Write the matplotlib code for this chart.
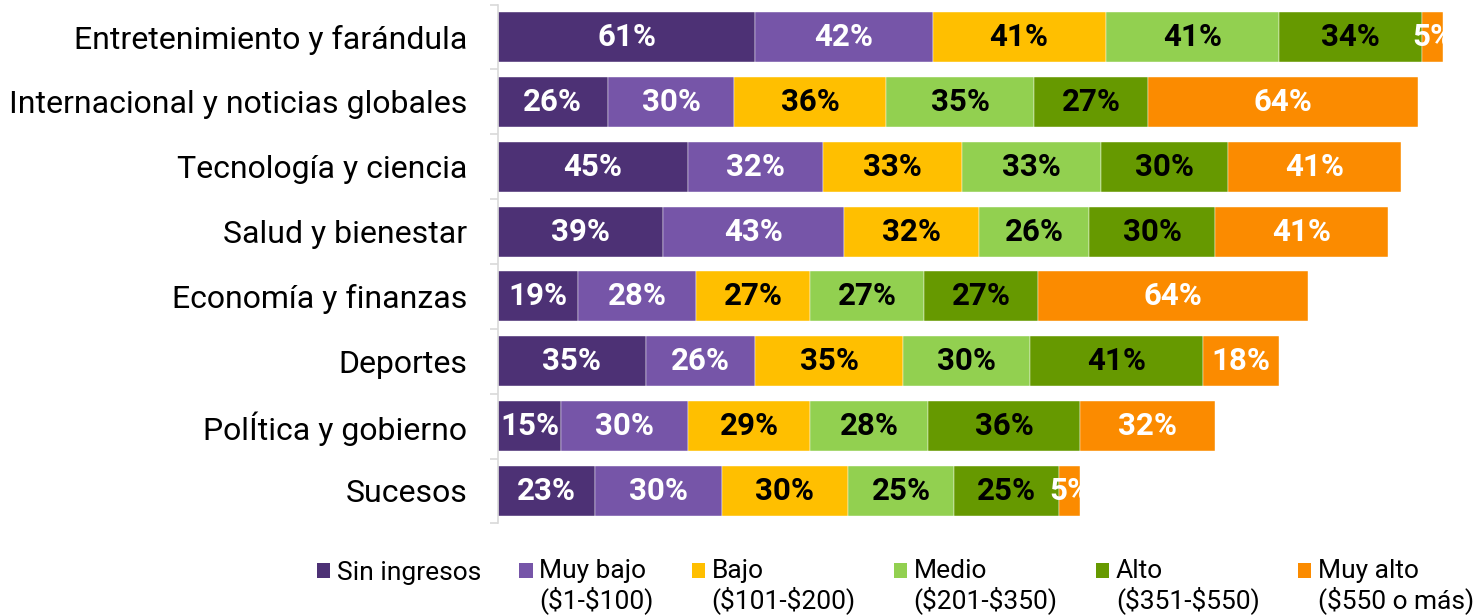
import matplotlib.pyplot as plt
import numpy as np
from matplotlib.legend_handler import HandlerPatch
from matplotlib.patches import Patch, Rectangle

plt.rcParams['font.family'] = ['Roboto', 'DejaVu Sans']
plt.rcParams['text.parse_math'] = False

# ─── Données ──────────────────────────────────────────────────────────────────

categories = [
    "Entretenimiento y farándula",
    "Internacional y noticias globales",
    "Tecnología y ciencia",
    "Salud y bienestar",
    "Economía y finanzas",
    "Deportes",
    "PolÍtica y gobierno",
    "Sucesos",
]

sin_ingresos = [61, 26, 45, 39, 19, 35, 15, 23]
muy_bajo     = [42, 30, 32, 43, 28, 26, 30, 30]
bajo         = [41, 36, 33, 32, 27, 35, 29, 30]
medio        = [41, 35, 33, 26, 27, 30, 28, 25]
alto         = [34, 27, 30, 30, 27, 41, 36, 25]
muy_alto     = [5, 64, 41, 41, 64, 18, 32, 5]

series_labels = [
    "Sin ingresos\n ",
    "Muy bajo\n($1-$100)",
    "Bajo\n($101-$200)",
    "Medio\n($201-$350)",
    "Alto\n($351-$550)",
    "Muy alto\n($550 o más)",
]
series = [sin_ingresos, muy_bajo, bajo, medio, alto, muy_alto]
colors = ["#4D3175", "#7655A8", "#FFBF00", "#92D050", "#669900", "#FB8B00"]
text_colors = ["white", "white", "black", "black", "black", "white"]

# ─── Figure ───────────────────────────────────────────────────────────────────

fig = plt.figure(figsize=(14.79, 6.16), dpi=100)
ax = fig.add_axes([498 / 1479, 1 - 523.4 / 616, 962 / 1479, 518.8 / 616])

y = np.arange(len(categories))
bar_h = 0.77
left = np.zeros(len(categories))
totals = np.sum(series, axis=0)

for vals, col, tcol in zip(series, colors, text_colors):
    vals = np.array(vals, dtype=float)
    ax.barh(y, vals, left=left, height=bar_h, color=col,
            edgecolor="white", linewidth=0.3)
    for i, v in enumerate(vals):
        t = ax.text(left[i] + v / 2, y[i], f"{int(v)}%", ha="center",
                    va="center", color=tcol, fontsize=22.5, fontweight="bold")
        # le texte est coupé au bout de la barre (cas des 5 %)
        clip = Rectangle((0, y[i] - bar_h / 2), totals[i], bar_h,
                         transform=ax.transData)
        t.set_clip_path(clip)
    left += vals

ax.set_xlim(0, 962 / 4.22)
ax.set_ylim(len(categories) - 0.5, -0.5)

ax.set_yticks(y)
ax.set_yticklabels(categories, fontsize=23)
ax.set_yticks(np.arange(len(categories) + 1) - 0.5, minor=True)
ax.tick_params(axis="y", which="major", length=0, pad=22)
ax.tick_params(axis="y", which="minor", length=6, color="#D9D9D9", width=1.2)
ax.set_xticks([])

for s in ["top", "right", "bottom"]:
    ax.spines[s].set_visible(False)
ax.spines["left"].set_color("#D9D9D9")
ax.spines["left"].set_linewidth(1.2)

# ─── Légende (marqueur aligné sur la première ligne) ─────────────────────────

LEG_FS = 19


def top_square(legend, orig_handle, xdescent, ydescent, width, height, fontsize):
    return Rectangle((-xdescent, -ydescent + 0.62 * fontsize), width, height)


handles = [Patch(facecolor=c, edgecolor="none") for c in colors]
leg = fig.legend(handles, series_labels, ncol=6,
                 loc="upper left", bbox_to_anchor=(317 / 1479, 1 - 559 / 616),
                 frameon=False, fontsize=LEG_FS, handlelength=0.5,
                 handleheight=0.5, handletextpad=0.25, columnspacing=1.45,
                 borderpad=0, borderaxespad=0,
                 handler_map={Patch: HandlerPatch(patch_func=top_square)})
for t in leg.get_texts():
    t.set_linespacing(1.15)

fig.savefig("out.png", dpi=100)
